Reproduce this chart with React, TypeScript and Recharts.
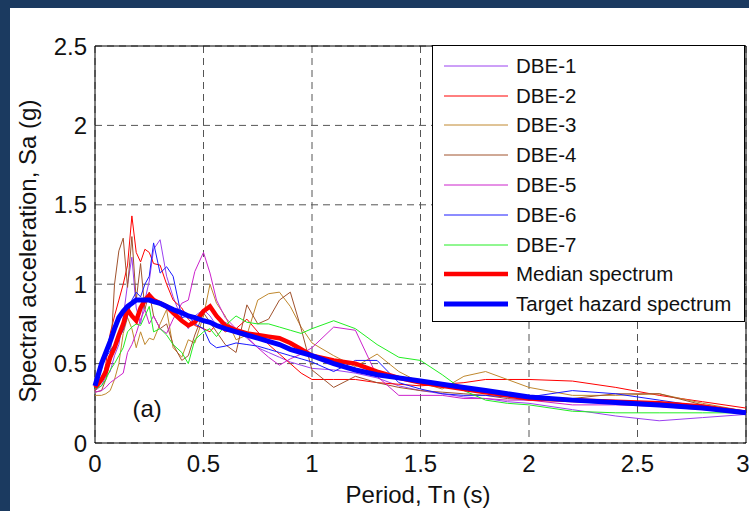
import React from 'react';
import { LineChart, Line, XAxis, YAxis, CartesianGrid, Legend, ReferenceArea, ReferenceDot } from 'recharts';

const periods = [0, 0.03, 0.05, 0.07, 0.09, 0.11, 0.13, 0.15, 0.17, 0.19, 0.21, 0.23, 0.25, 0.27, 0.3, 0.33, 0.36, 0.4, 0.43, 0.46, 0.5, 0.53, 0.56, 0.6, 0.65, 0.7, 0.75, 0.8, 0.85, 0.9, 0.95, 1.0, 1.1, 1.2, 1.3, 1.4, 1.5, 1.6, 1.7, 1.8, 1.9, 2.0, 2.2, 2.4, 2.6, 2.8, 3.0];

const dbe1 = [0.33, 0.36, 0.42, 0.45, 0.55, 0.62, 0.79, 1.0, 1.17, 0.85, 0.75, 0.9, 1.02, 1.22, 1.28, 1.05, 0.92, 0.78, 0.72, 0.8, 0.84, 0.8, 0.74, 0.76, 0.72, 0.66, 0.6, 0.57, 0.54, 0.51, 0.49, 0.47, 0.46, 0.44, 0.41, 0.36, 0.33, 0.31, 0.29, 0.28, 0.26, 0.25, 0.21, 0.17, 0.14, 0.16, 0.18];
const dbe2 = [0.33, 0.38, 0.5, 0.69, 0.8, 0.9, 1.0, 1.12, 1.43, 1.2, 1.14, 1.22, 1.2, 1.13, 1.12, 1.0, 0.9, 0.85, 0.78, 0.74, 0.72, 0.7, 0.75, 0.7, 0.72, 0.78, 0.7, 0.62, 0.56, 0.5, 0.44, 0.4, 0.4, 0.4, 0.38, 0.37, 0.36, 0.37, 0.38, 0.4, 0.4, 0.4, 0.39, 0.35, 0.3, 0.26, 0.22];
const dbe3 = [0.3, 0.3, 0.31, 0.33, 0.4, 0.5, 0.69, 0.79, 0.72, 0.6, 0.7, 0.62, 0.66, 0.65, 0.75, 0.84, 0.6, 0.54, 0.65, 0.63, 0.8, 1.0, 0.88, 0.8, 0.65, 0.68, 0.9, 0.94, 0.95, 0.86, 0.73, 0.63, 0.55, 0.48, 0.56, 0.45, 0.38, 0.34, 0.42, 0.45, 0.4, 0.35, 0.3, 0.3, 0.31, 0.25, 0.2];
const dbe4 = [0.32, 0.33, 0.4, 0.52, 1.0, 1.21, 1.29, 0.98, 1.3, 0.9, 1.13, 0.84, 0.95, 0.8, 0.72, 0.75, 0.62, 0.52, 0.55, 0.68, 0.82, 0.76, 0.7, 0.62, 0.57, 0.87, 0.75, 0.78, 0.9, 0.95, 0.72, 0.46, 0.35, 0.42, 0.38, 0.35, 0.33, 0.32, 0.31, 0.3, 0.28, 0.27, 0.28, 0.31, 0.31, 0.24, 0.19];
const dbe5 = [0.32, 0.33, 0.35, 0.38, 0.4, 0.42, 0.44, 0.57, 0.62, 0.69, 0.78, 0.84, 0.75, 0.8, 0.72, 0.69, 0.78, 0.88, 0.9, 1.08, 1.2, 1.07, 0.9, 0.79, 0.72, 0.67, 0.6, 0.54, 0.49, 0.53, 0.56, 0.6, 0.73, 0.71, 0.42, 0.3, 0.3, 0.3, 0.28, 0.28, 0.27, 0.27, 0.24, 0.24, 0.23, 0.21, 0.2];
const dbe6 = [0.35, 0.5, 0.54, 0.58, 0.62, 0.66, 0.71, 0.8, 0.9, 0.95, 0.92, 1.0, 1.05, 1.26, 1.07, 1.11, 1.05, 0.79, 0.8, 0.75, 0.72, 0.63, 0.6, 0.61, 0.63, 0.62, 0.61, 0.59, 0.57, 0.55, 0.53, 0.51, 0.45, 0.52, 0.52, 0.38, 0.34, 0.31, 0.3, 0.3, 0.29, 0.29, 0.33, 0.31, 0.27, 0.23, 0.2];
const dbe7 = [0.34, 0.36, 0.4, 0.46, 0.5, 0.55, 0.6, 0.7, 0.73, 0.75, 0.74, 0.8, 0.86, 0.7, 0.72, 0.68, 0.62, 0.57, 0.5, 0.65, 0.7, 0.72, 0.67, 0.74, 0.8, 0.76, 0.75, 0.75, 0.73, 0.71, 0.69, 0.72, 0.77, 0.72, 0.62, 0.54, 0.52, 0.43, 0.33, 0.27, 0.25, 0.24, 0.2, 0.19, 0.19, 0.19, 0.19];
const median = [0.35, 0.4, 0.45, 0.54, 0.6, 0.68, 0.75, 0.84, 0.8, 0.77, 0.85, 0.9, 0.93, 0.9, 0.88, 0.86, 0.82, 0.77, 0.74, 0.76, 0.83, 0.86, 0.8, 0.74, 0.71, 0.69, 0.68, 0.67, 0.66, 0.63, 0.59, 0.55, 0.52, 0.5, 0.45, 0.41, 0.38, 0.36, 0.34, 0.32, 0.3, 0.28, 0.27, 0.26, 0.25, 0.23, 0.19];
const target = [0.36, 0.5, 0.57, 0.64, 0.72, 0.79, 0.83, 0.86, 0.88, 0.9, 0.9, 0.9, 0.9, 0.89, 0.88, 0.86, 0.84, 0.82, 0.8, 0.79, 0.77, 0.76, 0.74, 0.72, 0.7, 0.68, 0.66, 0.64, 0.62, 0.59, 0.57, 0.55, 0.5, 0.46, 0.43, 0.41, 0.39, 0.37, 0.35, 0.33, 0.31, 0.29, 0.27, 0.255, 0.24, 0.22, 0.19];

const xTicks = [0, 0.5, 1, 1.5, 2, 2.5, 3];
const yTicks = [0, 0.5, 1, 1.5, 2, 2.5];

const series = [
  { key: 'dbe1', name: 'DBE-1', values: dbe1, color: '#9a40f0', width: 1 },
  { key: 'dbe2', name: 'DBE-2', values: dbe2, color: '#ff0000', width: 1 },
  { key: 'dbe3', name: 'DBE-3', values: dbe3, color: '#c0882e', width: 1 },
  { key: 'dbe4', name: 'DBE-4', values: dbe4, color: '#a0522d', width: 1 },
  { key: 'dbe5', name: 'DBE-5', values: dbe5, color: '#cc22cc', width: 1 },
  { key: 'dbe6', name: 'DBE-6', values: dbe6, color: '#1a1aff', width: 1 },
  { key: 'dbe7', name: 'DBE-7', values: dbe7, color: '#22ee22', width: 1 },
  { key: 'median', name: 'Median spectrum', values: median, color: '#ff0000', width: 4.5 },
  { key: 'target', name: 'Target hazard spectrum', values: target, color: '#0000ff', width: 5 },
];

const data = periods.map((p, i) => {
  const row: Record<string, number> = { period: p };
  series.forEach((s) => { row[s.key] = s.values[i]; });
  return row;
});

const font = '"Liberation Sans", Arial, Helvetica, sans-serif';

const renderLegend = () => (
  <div style={{ border: '1px solid #000', background: '#fff', width: 313, height: 277, boxSizing: 'border-box', paddingTop: 5, fontFamily: font, fontSize: 20.5, color: '#111' }}>
    {series.map((s) => (
      <div key={s.key} style={{ display: 'flex', alignItems: 'center', height: 29.8 }}>
        <svg width={83} height={10} style={{ flex: 'none' }}>
          <line x1={11} x2={75} y1={5} y2={5} stroke={s.color} strokeWidth={s.width} />
        </svg>
        <span style={{ whiteSpace: 'nowrap' }}>{s.name}</span>
      </div>
    ))}
  </div>
);

const renderYLabel = () => (
  <text x={27} y={251} transform="rotate(-90 27 251)" textAnchor="middle" dominantBaseline="central" fontSize={24} fill="#111" fontFamily={font}>
    Spectral acceleration, Sa (g)
  </text>
);

const renderXLabel = () => (
  <text x={418} y={494} textAnchor="middle" dominantBaseline="central" fontSize={24} fill="#111" fontFamily={font}>
    Period, Tn (s)
  </text>
);

export default function App() {
  return (
    <div style={{ position: 'absolute', left: 0, top: 0, width: 749, height: 511, background: '#1b3a60', overflow: 'hidden' }}>
      <div style={{ position: 'absolute', left: 10, top: 8, right: 0, bottom: 0, background: '#fff' }} />
      <div style={{ position: 'absolute', left: 0, top: 0 }}>
        <LineChart width={749} height={511} data={data} margin={{ top: 46, right: 3, bottom: 38, left: 0 }}>
          <CartesianGrid stroke="#555" strokeDasharray="7 5" />
          <XAxis
            type="number"
            dataKey="period"
            domain={[0, 3]}
            ticks={xTicks}
            height={30}
            tickLine={false}
            axisLine={false}
            tickSize={0}
            tickMargin={12}
            tick={{ fontSize: 24, fill: '#111', fontFamily: font }}
            label={renderXLabel}
          />
          <YAxis
            type="number"
            domain={[0, 2.5]}
            ticks={yTicks}
            width={95}
            tickLine={false}
            axisLine={false}
            tickSize={0}
            tickMargin={8}
            tick={{ fontSize: 24, fill: '#111', fontFamily: font }}
            label={renderYLabel}
          />
          {series.map((s) => (
            <Line
              key={s.key}
              type="linear"
              dataKey={s.key}
              name={s.name}
              stroke={s.color}
              strokeWidth={s.width}
              dot={false}
              activeDot={false}
              isAnimationActive={false}
            />
          ))}
          <ReferenceArea x1={0} x2={3} y1={0} y2={2.5} fill="none" stroke="#000" strokeWidth={1} ifOverflow="visible" />
          <ReferenceDot x={0.24} y={0.22} r={0} fill="none" stroke="none" label={{ value: '(a)', position: 'center', fontSize: 24, fill: '#111', fontFamily: font }} />
          <Legend
            layout="horizontal"
            verticalAlign="middle"
            align="center"
            content={renderLegend}
            wrapperStyle={{ left: 432, top: 45, width: 313, height: 277 }}
          />
        </LineChart>
      </div>
    </div>
  );
}
